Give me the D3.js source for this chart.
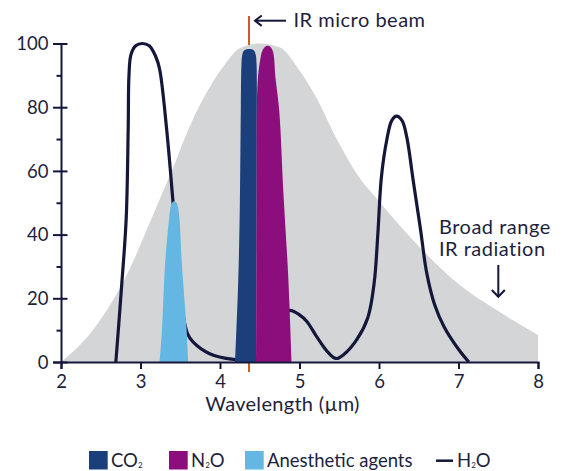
<!DOCTYPE html>
<html>
<head>
<meta charset="utf-8">
<script src="https://cdn.jsdelivr.net/npm/d3@7"></script>
<style>
  html, body { margin: 0; padding: 0; background: #ffffff; }
  svg { display: block; font-family: Lato, "Open Sans", sans-serif; }
</style>
</head>
<body>
<svg id="chart" width="566" height="471"></svg>
<script>
// ---------- DATA ----------
const wavelengthTicks = [2, 3, 4, 5, 6, 7, 8];
const absorbanceTicks = [0, 20, 40, 60, 80, 100];
const absorbanceMinorTicks = [10, 30, 50, 70, 90];

// Broad range IR radiation (grey), [wavelength µm, relative intensity]
const broadbandIR = [
  [2.0, 0], [2.4, 10], [2.8, 26], [3.18, 47.5], [3.41, 61], [3.62, 74],
  [3.83, 84.5], [4.04, 92.7], [4.25, 98.5], [4.5, 100], [4.75, 98.8],
  [5.0, 91.5], [5.2, 83.5], [5.5, 68.5], [5.75, 58], [6.0, 50.5],
  [6.4, 39], [7.0, 24.5], [7.5, 16], [8.0, 8.5]
];

// H2O absorption line
const h2oAbsorption = [
  [2.69, 0], [2.76, 23], [2.82, 45], [2.845, 73], [2.855, 90], [2.88, 96.5],
  [2.94, 99.3], [3.02, 100], [3.11, 99.3], [3.19, 96], [3.24, 92],
  [3.33, 72.8], [3.41, 50], [3.48, 30], [3.54, 14.2], [3.59, 9],
  [3.66, 6.3], [3.87, 2.6], [4.17, 0.8], [4.4, 0.6], [4.6, 5],
  [4.8, 15], [4.88, 16.2], [5.0, 14.8], [5.09, 12.8], [5.22, 7.8],
  [5.36, 3], [5.46, 1.1], [5.56, 2.4], [5.72, 7], [5.86, 14],
  [5.94, 25], [5.985, 40], [6.03, 58], [6.1, 70], [6.16, 75.8],
  [6.22, 77.2], [6.29, 75.8], [6.35, 70.5], [6.43, 57], [6.52, 42],
  [6.6, 28], [6.7, 18], [6.82, 11], [7.0, 4], [7.13, 0]
];

// Absorption band outlines, [wavelength µm, relative absorbance]
const anestheticBand = [
  [3.24, 0], [3.27, 10], [3.31, 31], [3.36, 45], [3.38, 48.8], [3.40, 50.1],
  [3.425, 50.5], [3.45, 50.1], [3.47, 48.8], [3.49, 45], [3.52, 31],
  [3.58, 10], [3.60, 0]
];
const co2Band = [
  [4.19, 0], [4.23, 26], [4.25, 50], [4.262, 80], [4.27, 93.5], [4.28, 96.4],
  [4.30, 97.7], [4.335, 98.2], [4.367, 98.3], [4.40, 98.2], [4.43, 97.7],
  [4.45, 96.4], [4.46, 93.5], [4.462, 70], [4.46, 40], [4.455, 0]
];
const n2oBand = [
  [4.455, 0], [4.46, 50], [4.465, 82], [4.48, 90], [4.51, 95.5], [4.53, 97.6],
  [4.565, 98.9], [4.60, 99.3], [4.635, 98.9], [4.665, 97.6], [4.68, 95.5],
  [4.695, 90], [4.745, 79], [4.80, 52], [4.86, 26], [4.90, 0]
];

const irBeamWavelength = 4.365;

const legendItems = [
  { label: "CO", sub: "2", tail: "", type: "box", color: "#1b3f7b" },
  { label: "N", sub: "2", tail: "O", type: "box", color: "#8b0e7c" },
  { label: "Anesthetic agents", sub: "", tail: "", type: "box", color: "#63b7e2" },
  { label: "H", sub: "2", tail: "O", type: "line", color: "#14163a" }
];

// ---------- STYLE ----------
const TEXT = "#1d1f3e";
const GREY = "#d4d5d7";
const LINE = "#14163a";
const RED = "#d6572b";

const svg = d3.select("#chart");
const x = d3.scaleLinear().domain([2, 8]).range([61, 538]);
const y = d3.scaleLinear().domain([0, 100]).range([362, 43.5]);

// IR micro beam marker (behind everything)
svg.append("line")
  .attr("x1", x(irBeamWavelength)).attr("x2", x(irBeamWavelength))
  .attr("y1", 16).attr("y2", y(0) + 10)
  .attr("stroke", RED).attr("stroke-width", 2);

// Broad band grey area
const area = d3.area()
  .x(d => x(d[0])).y0(y(0)).y1(d => y(d[1]))
  .curve(d3.curveMonotoneX);
svg.append("path").datum(broadbandIR)
  .attr("d", area).attr("fill", GREY);

// H2O line
const smooth = d3.line().x(d => x(d[0])).y(d => y(d[1]))
  .curve(d3.curveCatmullRom.alpha(0.5));
svg.append("path").datum(h2oAbsorption)
  .attr("d", smooth).attr("fill", "none")
  .attr("stroke", LINE).attr("stroke-width", 3.2)
  .attr("stroke-linejoin", "round");

// Bands
[[anestheticBand, "#63b7e2"], [co2Band, "#1b3f7b"], [n2oBand, "#8b0e7c"]].forEach(([band, col]) => {
  svg.append("path").datum(band)
    .attr("d", d => smooth(d) + "Z")
    .attr("fill", col);
});

// ---------- AXES ----------
const fontSize = 18.5;
const yAxis = svg.append("g").attr("transform", `translate(${x(2)},0)`)
  .call(d3.axisLeft(y).tickValues(absorbanceTicks).tickSizeOuter(0).tickSize(8));
yAxis.selectAll(".tick line").attr("x1", 6.5).attr("x2", -8);
yAxis.selectAll(".tick text").attr("x", -12.5).attr("dy", "0.33em");

const yMinor = svg.append("g").attr("transform", `translate(${x(2)},0)`)
  .call(d3.axisLeft(y).tickValues(absorbanceMinorTicks).tickSizeOuter(0).tickSize(4.5).tickFormat(""));
yMinor.select(".domain").remove();

const xAxis = svg.append("g").attr("transform", `translate(0,${y(0)})`)
  .call(d3.axisBottom(x).tickValues(wavelengthTicks).tickSizeOuter(0).tickSize(7).tickFormat(d3.format("d")));
xAxis.selectAll(".tick text").attr("y", 26).attr("dy", 0);

[yAxis, yMinor, xAxis].forEach(g => {
  g.selectAll(".domain").attr("stroke", LINE).attr("stroke-width", 2);
  g.selectAll(".tick line").attr("stroke", LINE).attr("stroke-width", 2);
  g.selectAll("text").attr("fill", TEXT).style("font-size", fontSize + "px")
    .style("font-family", "Lato, sans-serif");
});

// Axis title
svg.append("text")
  .attr("x", 282.5).attr("y", 411)
  .attr("text-anchor", "middle")
  .attr("fill", TEXT).style("font-size", "20px").style("letter-spacing", "0.3px")
  .text("Wavelength (µm)");

// ---------- ANNOTATIONS ----------
const annFont = 20;
// IR micro beam arrow
svg.append("line").attr("x1", 255).attr("x2", 286).attr("y1", 20.7).attr("y2", 20.7)
  .attr("stroke", LINE).attr("stroke-width", 2);
svg.append("polyline").attr("points", "261.7,15.5 255,20.7 261.7,25.9")
  .attr("fill", "none").attr("stroke", LINE).attr("stroke-width", 2);
svg.append("text").attr("x", 293.5).attr("y", 27.3)
  .attr("fill", TEXT).style("font-size", annFont + "px").style("letter-spacing", "0.5px")
  .text("IR micro beam");

// Broad range annotation
const br = svg.append("text").attr("fill", TEXT)
  .style("font-size", annFont + "px").style("letter-spacing", "0.5px");
br.append("tspan").attr("x", 439).attr("y", 234).text("Broad range");
br.append("tspan").attr("x", 439).attr("y", 255.5).text("IR radiation");
svg.append("line").attr("x1", 498.3).attr("x2", 498.3).attr("y1", 265).attr("y2", 296.5)
  .attr("stroke", LINE).attr("stroke-width", 2);
svg.append("polyline").attr("points", "491.8,290 498.3,296.8 504.8,290")
  .attr("fill", "none").attr("stroke", LINE).attr("stroke-width", 2);

// ---------- LEGEND ----------
const legendX = [89, 169, 245, 436];
const lg = svg.append("g");
legendItems.forEach((it, i) => {
  const gx = legendX[i];
  let tx;
  if (it.type === "box") {
    lg.append("rect").attr("x", gx).attr("y", 451).attr("width", 18.7).attr("height", 18.5)
      .attr("fill", it.color);
    tx = gx + 22;
  } else {
    lg.append("line").attr("x1", gx).attr("x2", gx + 17).attr("y1", 460.7).attr("y2", 460.7)
      .attr("stroke", it.color).attr("stroke-width", 2.5);
    tx = gx + 21;
  }
  const t = lg.append("text").attr("x", tx).attr("y", 466.5)
    .attr("fill", TEXT).style("font-size", fontSize + "px");
  t.append("tspan").text(it.label);
  if (it.sub) {
    t.append("tspan").text(it.sub).style("font-size", "8px").attr("dy", 1);
    if (it.tail) t.append("tspan").text(it.tail).attr("dy", -1);
  }
});
</script>
</body>
</html>
